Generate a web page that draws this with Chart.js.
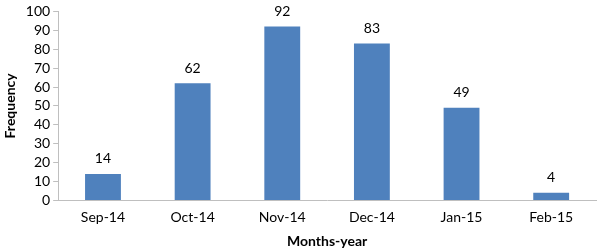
<!DOCTYPE html>
<html>
<head>
<meta charset="utf-8">
<script src="https://cdn.jsdelivr.net/npm/chart.js@4"></script>
<style>
  html, body { margin: 0; padding: 0; background: #fff; }
  #wrap { width: 600px; height: 250px; }
</style>
</head>
<body>
<div id="wrap"><canvas id="freqChart"></canvas></div>
<script>
const months = ['Sep-14', 'Oct-14', 'Nov-14', 'Dec-14', 'Jan-15', 'Feb-15'];
const frequency = [14, 62, 92, 83, 49, 4];
const yTicks = [0, 10, 20, 30, 40, 50, 60, 70, 80, 90, 100];

const fontFamily = 'Lato, "Open Sans", sans-serif';

// labels above each bar
const barValues = {
    id: 'barValues',
    afterDatasetsDraw(chart) {
        const ctx = chart.ctx;
        const meta = chart.getDatasetMeta(0);
        ctx.save();
        ctx.font = '14px ' + fontFamily;
        ctx.fillStyle = '#000';
        ctx.textAlign = 'center';
        ctx.textBaseline = 'bottom';
        meta.data.forEach((bar, i) => {
            ctx.fillText(chart.data.datasets[0].data[i], bar.x, bar.y - 8);
        });
        ctx.restore();
    }
};

const ctx = document.getElementById('freqChart').getContext('2d');
new Chart(ctx, {
    type: 'bar',
    data: {
        labels: months,
        datasets: [{
            data: frequency,
            backgroundColor: '#4F81BD',
            categoryPercentage: 1,
            barPercentage: 0.4
        }]
    },
    options: {
        responsive: true,
        maintainAspectRatio: false,
        animation: false,
        layout: { padding: { top: 0, right: 4, left: 2, bottom: 0 } },
        plugins: {
            legend: { display: false },
            tooltip: { enabled: false }
        },
        scales: {
            x: {
                grid: { display: false },
                border: { color: '#BFBFBF', width: 1 },
                ticks: { color: '#000', font: { family: fontFamily, size: 14 }, padding: 1 },
                title: {
                    display: true,
                    text: 'Months-year',
                    color: '#000',
                    font: { family: fontFamily, size: 14, weight: 'bold' },
                    padding: { top: 6, bottom: 0 }
                }
            },
            y: {
                min: 0,
                max: 100,
                afterBuildTicks(axis) {
                    axis.ticks = yTicks.map(v => ({ value: v }));
                },
                grid: {
                    drawOnChartArea: false,
                    drawTicks: true,
                    tickLength: 5,
                    color: '#BFBFBF'
                },
                border: { color: '#BFBFBF', width: 1 },
                ticks: { color: '#000', font: { family: fontFamily, size: 14 }, padding: 3, autoSkip: false },
                title: {
                    display: true,
                    text: 'Frequency',
                    color: '#000',
                    font: { family: fontFamily, size: 14, weight: 'bold' },
                    padding: { top: 0, bottom: 4 }
                }
            }
        }
    },
    plugins: [barValues]
});
</script>
</body>
</html>
